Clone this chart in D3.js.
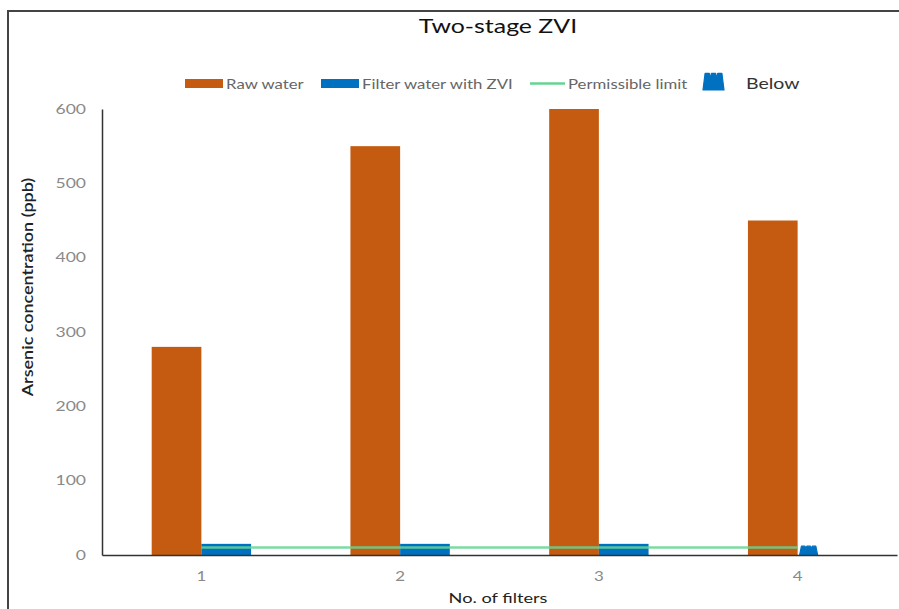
<!DOCTYPE html>
<html>
<head>
<meta charset="utf-8">
<script src="https://cdn.jsdelivr.net/npm/d3@7"></script>
<style>
  html, body { margin: 0; padding: 0; background: #fff; overflow: hidden; }
  svg { display: block; }
  text { font-family: Lato, "Open Sans", sans-serif; }
</style>
</head>
<body>
<svg id="chart" width="899" height="609"></svg>
<script>
// ---- data ----
const categories = ["1", "2", "3", "4"];
const rawWater = [280, 550, 600, 450];
const filterWater = [15, 15, 15, null];      // filter 4: below detection
const permissibleLimit = [10, 10, 10, 10];
const belowCategories = ["4"];
const yTicks = [0, 100, 200, 300, 400, 500, 600];
const seriesNames = ["Raw water", "Filter water with ZVI", "Permissible limit", "Below"];

const colors = { raw: "#C55A11", filter: "#0070C0", limit: "#66D394" };

const svg = d3.select("#chart");
const W = 899, H = 609;
const margin = { left: 102, right: 2, top: 109, bottom: 54 };

// horizontally stretched text helper
function stext(parent, x, y, str, size, sx, anchor, opts = {}) {
  const g = parent.append("g").attr("transform", `translate(${x},${y}) rotate(${opts.rot || 0}) scale(${sx},1)`);
  const t = g.append("text").attr("x", 0).attr("y", 0)
    .attr("text-anchor", anchor || "start")
    .attr("font-size", size)
    .attr("fill", opts.fill || "#222")
    .text(str);
  if (opts.weight) t.attr("font-weight", opts.weight);
  return t;
}

// outer frame
svg.append("path")
  .attr("d", `M8,${H + 5} L8,11 L${W + 5},11`)
  .attr("fill", "none").attr("stroke", "#444").attr("stroke-width", 2);

const x0 = d3.scaleBand().domain(categories)
  .range([margin.left, W - margin.right])
  .paddingInner(0.5).paddingOuter(0.25);
const x1 = d3.scaleBand().domain(["raw", "filter"]).range([0, x0.bandwidth()]);
const y = d3.scaleLinear().domain([0, 600]).range([H - margin.bottom, margin.top]);

// title
stext(svg, 498, 33, "Two-stage ZVI", 19, 1.31, "middle", { fill: "#111" });

// y axis
const yAxis = d3.axisLeft(y).tickValues(yTicks).tickSize(0).tickSizeOuter(0).tickPadding(16);
const gy = svg.append("g").attr("transform", `translate(${margin.left},0)`).call(yAxis);
gy.select(".domain").attr("stroke", "#333").attr("stroke-width", 1.5);
gy.selectAll(".tick text")
  .attr("font-size", 13).attr("fill", "#8a8a8a")
  .style("font-family", "Lato, sans-serif")
  .attr("transform", "translate(-16,0) scale(1.35,1) translate(16,0)");

// raw water bars
svg.append("g").selectAll("rect").data(categories).join("rect")
  .attr("x", d => x0(d) + x1("raw"))
  .attr("y", (d, i) => y(rawWater[i]))
  .attr("width", x1.bandwidth())
  .attr("height", (d, i) => y(0) - y(rawWater[i]))
  .attr("fill", colors.raw);

// filter bars
svg.append("g").selectAll("rect").data(categories.filter((d, i) => filterWater[i] != null)).join("rect")
  .attr("x", d => x0(d) + x1("filter"))
  .attr("y", d => y(filterWater[categories.indexOf(d)]))
  .attr("width", x1.bandwidth())
  .attr("height", d => y(0) - y(filterWater[categories.indexOf(d)]))
  .attr("fill", colors.filter);

// crown-shaped "Below" marker
function crownPath(x, yb, w, h) {
  const pts = [[0,1],[0.1,0.12],[0.3,0.12],[0.35,0.42],[0.4,0.12],[0.6,0.12],[0.65,0.42],[0.7,0.12],[0.9,0.12],[1,1]];
  return "M" + pts.map(p => `${x + p[0] * w},${yb - h + p[1] * h}`).join("L") + "Z";
}
svg.append("g").selectAll("path").data(belowCategories).join("path")
  .attr("d", d => crownPath(x0(d) + x0.bandwidth() / 2 + 2, y(0), 18, 10))
  .attr("fill", colors.filter).attr("stroke", colors.filter)
  .attr("stroke-width", 1.2).attr("stroke-linejoin", "round");

// x axis
const xAxis = d3.axisBottom(x0).tickSize(0).tickSizeOuter(0).tickPadding(17);
const gx = svg.append("g").attr("transform", `translate(0,${y(0)})`).call(xAxis);
gx.select(".domain").attr("stroke", "#333").attr("stroke-width", 1.5);
gx.selectAll(".tick text").attr("font-size", 13).attr("fill", "#8a8a8a")
  .style("font-family", "Lato, sans-serif").attr("transform", "scale(1.3,1)");

// permissible limit line
const line = d3.line().x(d => x0(d) + x0.bandwidth() / 2).y((d, i) => y(permissibleLimit[i]));
svg.append("path").datum(categories).attr("d", line)
  .attr("fill", "none").attr("stroke", colors.limit).attr("stroke-width", 2.5).attr("opacity", 0.85);

// axis titles
stext(svg, 33, 287, "Arsenic concentration (ppb)", 15, 1.2, "middle", { rot: -90, weight: 600, fill: "#222" });
stext(svg, 498, 603, "No. of filters", 14, 1.3, "middle", { fill: "#222" });

// legend
const lg = svg.append("g");
lg.append("rect").attr("x", 185).attr("y", 79).attr("width", 38).attr("height", 9).attr("fill", colors.raw);
stext(lg, 226, 89, seriesNames[0], 13, 1.29, "start", { fill: "#666" });
lg.append("rect").attr("x", 321).attr("y", 79).attr("width", 38).attr("height", 9).attr("fill", colors.filter);
stext(lg, 362, 89, seriesNames[1], 13, 1.29, "start", { fill: "#666" });
lg.append("line").attr("x1", 530).attr("x2", 565).attr("y1", 83.5).attr("y2", 83.5)
  .attr("stroke", colors.limit).attr("stroke-width", 2.5);
stext(lg, 568, 89, seriesNames[2], 13, 1.29, "start", { fill: "#666" });
lg.append("path").attr("d", crownPath(703, 90, 21, 19))
  .attr("fill", colors.filter).attr("stroke", colors.filter)
  .attr("stroke-width", 1.2).attr("stroke-linejoin", "round");
stext(lg, 746, 89, seriesNames[3], 15, 1.3, "start", { fill: "#333" });
</script>
</body>
</html>
